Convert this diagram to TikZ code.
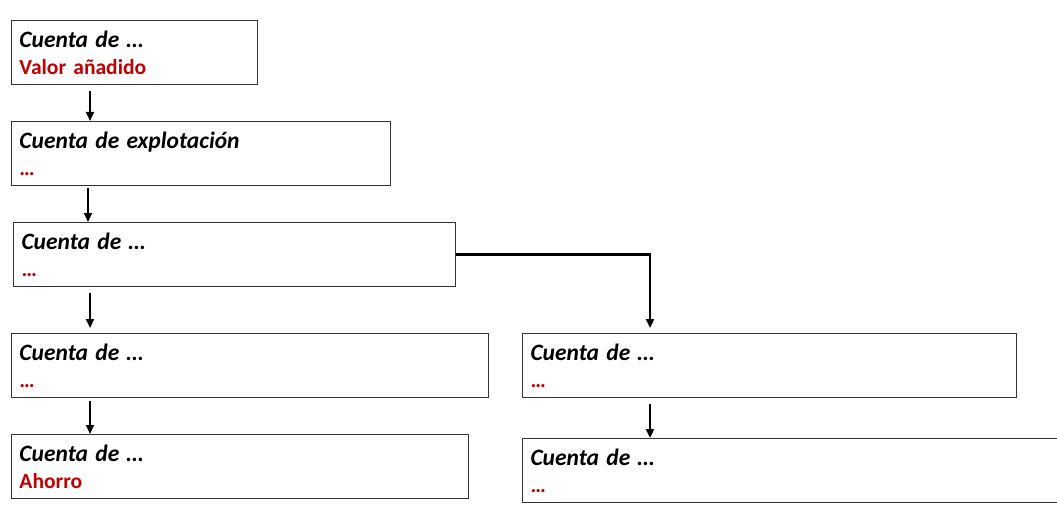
\documentclass[tikz,border=0pt]{standalone}
\usepackage{fontspec}
\setmainfont{Carlito}
\usetikzlibrary{arrows.meta}
\definecolor{rojo}{RGB}{192,0,0}
\tikzstyle{cta}=[draw=black!80,line width=1pt,anchor=north west,minimum height=64pt,inner xsep=8pt,inner ysep=0pt,align=left,font=\fontsize{22}{27}\selectfont\bfseries]
\tikzstyle{fl}=[line width=2.2pt,-{Triangle[length=9pt,width=8pt]}]

\begin{document}
\begin{tikzpicture}[x=1pt,y=-1pt]
\useasboundingbox (0,0) rectangle (1057,516);
\foreach \n/\x/\y/\w/\t/\v in {a/11/20/246/Cuenta de …/Valor añadido,
  b/11/121/379/Cuenta de explotación/…, c/13/222/442/Cuenta de …/…,
  d/11/333/477/Cuenta de …/…, e/11/434/457/Cuenta de …/Ahorro,
  f/522/333/494/Cuenta de …/…, g/522/438/540/Cuenta de …/…} {
\pgfmathsetmacro{\tw}{\w-16}
\node[cta,text width=\tw pt] (\n) at (\x,\y) {{\fontsize{23.5}{27}\selectfont\itshape\t}\\\textcolor{rojo}{\fontsize{21.5}{27}\selectfont\v}};}
\draw[fl] ([xshift=79pt,yshift=-6pt]a.south west) -- ([xshift=79pt]a.south west |- b.north);
\draw[fl] ([xshift=77pt,yshift=-2pt]b.south west) -- ([xshift=77pt]b.south west |- c.north);
\draw[fl] ([xshift=77pt,yshift=-6pt]c.south west) -- ([xshift=77pt,yshift=5pt]c.south west |- d.north);
\draw[fl] ([xshift=79pt,yshift=-3pt]d.south west) -- ([xshift=79pt]d.south west |- e.north);
\draw[fl] (c.east) -| ([xshift=128pt,yshift=5pt]f.north west);
\draw[fl] ([xshift=128pt,yshift=-6pt]f.south west) -- ([xshift=128pt]f.south west |- g.north);
\end{tikzpicture}
\end{document}
